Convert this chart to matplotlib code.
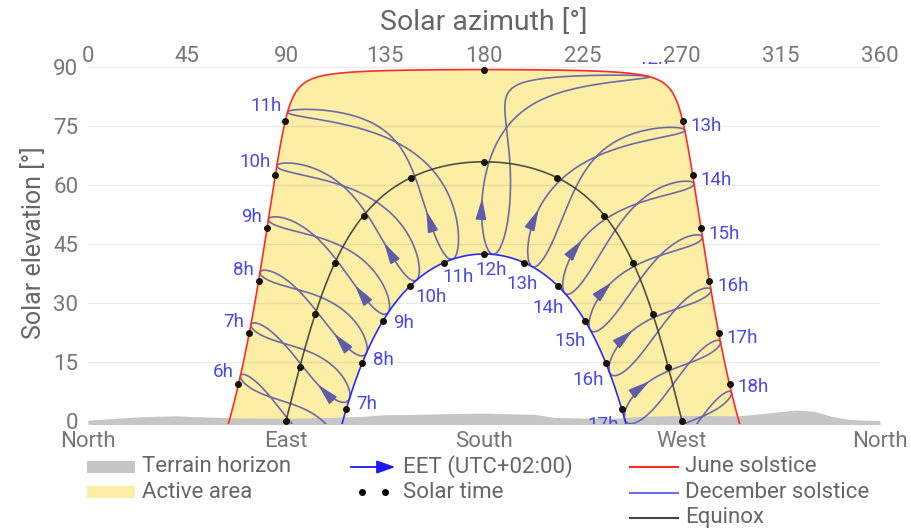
import numpy as np
import matplotlib
matplotlib.use("Agg")
import matplotlib.pyplot as plt
from matplotlib.patches import Rectangle, FancyArrowPatch
from matplotlib.lines import Line2D

plt.rcParams['font.family'] = ['Roboto', 'DejaVu Sans']

# ---------------- data ----------------
latitude = 24.09        # site latitude, deg N
longitude = 32.90       # site longitude, deg E
utc_offset = 2.0        # EET (UTC+02:00)
clock_hours = [6, 7, 8, 9, 10, 11, 12, 13, 14, 15, 16, 17, 18]
solar_hours = list(range(0, 24))
june_decl = 23.44
equinox_decl = 0.0
december_decl = -23.44
arrow_day = 54          # day of year where the direction arrow sits

terrain_az = [0, 10, 20, 30, 40, 55, 70, 90, 110, 125, 135, 150, 165, 180, 195, 203,
              212, 225, 240, 252, 265, 280, 295, 305, 315, 322, 330, 338, 345, 352, 360]
terrain_el = [0.2, 0.6, 0.95, 1.2, 1.3, 1.0, 0.75, 0.7, 0.9, 1.2, 1.6, 1.7, 1.9, 2.0, 1.8, 1.7,
              0.9, 0.75, 0.7, 1.2, 1.35, 1.4, 1.3, 1.8, 2.4, 2.8, 2.5, 1.2, 0.5, 0.2, 0.1]

azimuth_ticks = [0, 45, 90, 135, 180, 225, 270, 315, 360]
compass_ticks = [0, 90, 180, 270, 360]
compass_labels = ['North', 'East', 'South', 'West', 'North']
elevation_ticks = [0, 15, 30, 45, 60, 75, 90]

# ---------------- styles ----------------
C_JUNE = '#ff2a2a'
C_DEC = '#2a2aff'
C_EQ = '#333333'
C_ANA = '#5f5ca8'
C_LABEL = '#4848f0'
C_TICK = '#777777'
C_YELLOW = '#fdeea6'
C_TERRAIN = '#c6c6c6'


def sun_position(decl, ha):
    lat = np.radians(latitude)
    d = np.radians(decl)
    h = np.radians(ha)
    sin_el = np.sin(lat) * np.sin(d) + np.cos(lat) * np.cos(d) * np.cos(h)
    el = np.degrees(np.arcsin(np.clip(sin_el, -1, 1)))
    az = np.degrees(np.arctan2(np.sin(h), np.cos(h) * np.sin(lat) - np.tan(d) * np.cos(lat))) + 180
    return az, el


def sun_clock(doy, hour):
    g = 2 * np.pi / 365 * (doy - 1 + (hour - 12) / 24)
    eqt = 229.18 * (0.000075 + 0.001868 * np.cos(g) - 0.032077 * np.sin(g)
                    - 0.014615 * np.cos(2 * g) - 0.040849 * np.sin(2 * g))
    decl = np.degrees(0.006918 - 0.399912 * np.cos(g) + 0.070257 * np.sin(g)
                      - 0.006758 * np.cos(2 * g) + 0.000907 * np.sin(2 * g)
                      - 0.002697 * np.cos(3 * g) + 0.00148 * np.sin(3 * g))
    tst = hour * 60 + eqt + 4 * longitude - 60 * utc_offset
    ha = tst / 4 - 180
    return sun_position(decl, ha), decl, ha


fig = plt.figure(figsize=(9.11, 5.29), dpi=100)
W, H = 911, 529
ax = fig.add_axes([88 / W, 1 - 424 / H, 792 / W, 362 / H])
ax.set_xlim(0, 360)
ax.set_ylim(-0.763, 91.28)
ax.set_axisbelow(True)
for s in ax.spines.values():
    s.set_visible(False)

# grid
ax.set_yticks(elevation_ticks)
ax.yaxis.grid(True, color='black', alpha=0.08, lw=1.0)
ax.tick_params(axis='y', length=0, pad=7, labelsize=16, labelcolor=C_TICK)
ax.set_xticks(compass_ticks)
ax.set_xticklabels(compass_labels)
ax.tick_params(axis='x', length=0, pad=5, labelsize=16, labelcolor=C_TICK)

sec = ax.secondary_xaxis('top')
sec.set_xticks(azimuth_ticks)
sec.tick_params(length=0, pad=-3.5, labelsize=16, labelcolor=C_TICK)
for s in sec.spines.values():
    s.set_visible(False)

ax.set_ylabel('Solar elevation [°]', fontsize=18, color='#666666')
ax.yaxis.set_label_coords((46 - 88) / 792, 0.5)
fig.text(484 / W, 1 - 22 / H, 'Solar azimuth [°]', fontsize=20.5, color='#666666',
         ha='center', va='center')

# solstice / equinox paths
ha_line = np.linspace(-130, 130, 2601)
paths = {}
for name, dec in (('june', june_decl), ('eq', equinox_decl), ('dec', december_decl)):
    az, el = sun_position(dec, ha_line)
    m = el >= -1.5
    paths[name] = (az[m], el[m])

# active area
poly_az = np.concatenate([paths['june'][0], paths['dec'][0][::-1]])
poly_el = np.concatenate([paths['june'][1], paths['dec'][1][::-1]])
ax.fill(poly_az, poly_el, color=C_YELLOW, lw=0, zorder=0.3)

# terrain
ax.fill_between(terrain_az, -1, terrain_el, color=C_TERRAIN, lw=0, zorder=0.6)

ax.plot(*paths['june'], color=C_JUNE, lw=1.2, zorder=3)
ax.plot(*paths['dec'], color=C_DEC, lw=1.2, zorder=3)
ax.plot(*paths['eq'], color=C_EQ, lw=1.2, alpha=0.85, zorder=3)

# solar time dots
for dec in (june_decl, equinox_decl, december_decl):
    ha_pts = np.array([(h - 12) * 15.0 for h in solar_hours])
    az, el = sun_position(dec, ha_pts)
    m = el >= -0.01
    ax.plot(az[m], el[m], 'o', ms=4.0, color='#141400', zorder=5)

# analemmas
doy = np.arange(1, 366.01, 0.25)
fig.canvas.draw()
renderer = fig.canvas.get_renderer()


def to_px(a, e):
    return ax.transData.transform(np.column_stack([np.atleast_1d(a), np.atleast_1d(e)]))


for h in clock_hours:
    (az, el), decl, ha = sun_clock(doy, h)
    ax.plot(az, el, color=C_ANA, lw=1.2, alpha=0.9, zorder=2)
    # arrow
    (a0, e0), _, _ = sun_clock(arrow_day - 2.5, h)
    (a1, e1), _, _ = sun_clock(arrow_day + 2.5, h)
    if e1 > -0.5:
        ax.annotate('', xy=(a1, e1), xytext=(a0, e0),
                    arrowprops=dict(arrowstyle='-|>,head_length=0.8,head_width=0.2',
                                    color=C_ANA, lw=1.2, mutation_scale=16,
                                    shrinkA=0, shrinkB=0), zorder=2.5)
    # labels at both ends
    for idx, sign in ((np.argmax(decl), 1), (np.argmin(decl), -1)):
        ea, ee, eh, ed = az[idx], el[idx], ha[idx], decl[idx]
        if ee < -1.0:
            continue
        pa, pe = sun_position(ed, np.array([eh - 0.5, eh + 0.5]))
        p = to_px(pa, pe)
        t = p[1] - p[0]
        t = t / np.hypot(*t)
        if sign > 0:
            n = np.array([-t[1], t[0]])
        else:
            n = np.array([t[1], -t[0]])
        txt = ax.annotate(f'{h}h', xy=(ea, ee), xytext=(0, 0), textcoords='offset pixels',
                          ha='center', va='center', fontsize=13.5, color=C_LABEL,
                          zorder=6, annotation_clip=False)
        txt.set_clip_on(True)
        txt.set_clip_box(ax.bbox)
        bb = txt.get_window_extent(renderer)
        half = abs(n[0]) * bb.width / 2 + abs(n[1]) * bb.height / 2
        off = n * (5 + half)
        txt.xyann = (off[0], off[1])

# ---------------- legend (figure pixels) ----------------
def fx(x):
    return x / W


def fy(y):
    return 1 - y / H


LFS = 16
LC = '#666666'
fig.add_artist(Rectangle((fx(87), fy(473)), 48 / W, 12 / H, transform=fig.transFigure,
                         color=C_TERRAIN, lw=0))
fig.text(fx(142), fy(467), 'Terrain horizon', fontsize=LFS, color=LC, va='center')
fig.add_artist(Rectangle((fx(87), fy(498)), 48 / W, 12 / H, transform=fig.transFigure,
                         color=C_YELLOW, lw=0))
fig.text(fx(142), fy(492), 'Active area', fontsize=LFS, color=LC, va='center')

fig.add_artist(FancyArrowPatch((fx(348), fy(467)), (fx(398), fy(467)), transform=fig.transFigure,
                               arrowstyle='-|>,head_length=0.7,head_width=0.25',
                               mutation_scale=16, color='#1a1aff', lw=1.3))
fig.text(fx(403), fy(467), 'EET (UTC+02:00)', fontsize=LFS, color=LC, va='center')
fig.add_artist(Line2D([fx(362), fx(385)], [fy(492), fy(492)], transform=fig.transFigure,
                      ls='none', marker='o', ms=4, color='black'))
fig.text(fx(403), fy(492), 'Solar time', fontsize=LFS, color=LC, va='center')

for y, col, lab in ((467, C_JUNE, 'June solstice'), (493, '#6a6aff', 'December solstice'),
                    (518, '#444444', 'Equinox')):
    fig.add_artist(Line2D([fx(630), fx(678)], [fy(y), fy(y)], transform=fig.transFigure,
                          color=col, lw=1.5))
    fig.text(fx(685), fy(y), lab, fontsize=LFS, color=LC, va='center')

fig.savefig('out.png', dpi=100)
